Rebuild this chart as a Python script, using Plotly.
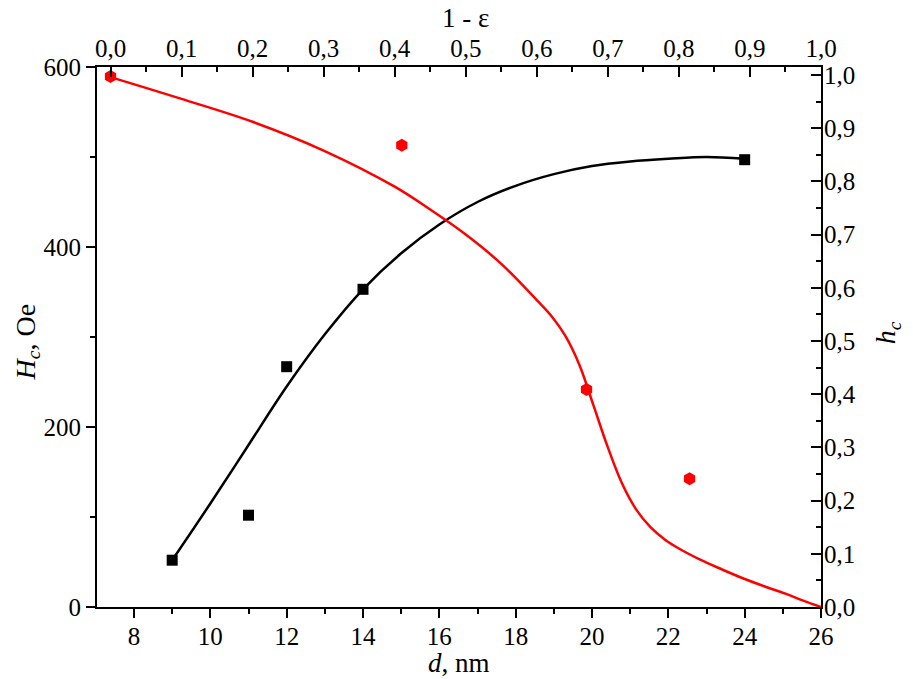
import plotly.graph_objects as go

# measured points: coercive field vs particle size
d_nm = [9, 11, 12, 14, 24]
hc_oe = [52, 102, 267, 353, 497]

# fitted curve for Hc(d)
d_fit = [9, 10, 11, 12, 13, 14, 15, 16, 17, 18, 19, 20, 21, 22, 23, 24]
hc_fit = [52, 115, 180, 245, 303, 353, 393, 425, 450, 468, 481, 490, 495, 498, 500, 498]

# reduced coercivity vs 1 - eps (top / right axes)
one_minus_eps = [0.0, 0.41, 0.67, 0.815]
h_red = [0.997, 0.868, 0.409, 0.241]

eps_fit = [0.0, 0.1, 0.2, 0.3, 0.4, 0.45, 0.5, 0.55, 0.6, 0.62, 0.64, 0.66, 0.68, 0.70,
           0.72, 0.74, 0.76, 0.78, 0.80, 0.83, 0.86, 0.89, 0.92, 0.95, 0.975, 1.0]
h_fit = [0.996, 0.955, 0.912, 0.858, 0.790, 0.747, 0.700, 0.645, 0.577, 0.548, 0.510, 0.455,
         0.378, 0.300, 0.232, 0.183, 0.150, 0.127, 0.110, 0.089, 0.071, 0.054, 0.039, 0.025,
         0.012, 0.0]

RED = "#ff0000"
FONT = "Times New Roman, Liberation Serif, serif"

fig = go.Figure()
fig.add_trace(go.Scatter(x=eps_fit, y=h_fit, xaxis="x2", yaxis="y2", mode="lines",
                         line=dict(color=RED, width=2.5, shape="spline", smoothing=1.0)))
fig.add_trace(go.Scatter(x=one_minus_eps, y=h_red, xaxis="x2", yaxis="y2", mode="markers",
                         marker=dict(symbol="hexagon", size=13, color=RED)))
fig.add_trace(go.Scatter(x=d_fit, y=hc_fit, mode="lines",
                         line=dict(color="black", width=2.5, shape="spline", smoothing=1.0)))
fig.add_trace(go.Scatter(x=d_nm, y=hc_oe, mode="markers",
                         marker=dict(symbol="square", size=11, color="black")))

axis_common = dict(showline=True, linewidth=2, linecolor="black", showgrid=False,
                   zeroline=False, tickwidth=2, tickcolor="black", automargin=False)

fig.update_layout(
    width=913, height=679,
    margin=dict(l=97, r=92, t=67, b=72),
    paper_bgcolor="white", plot_bgcolor="white",
    showlegend=False,
    separators=", ",
    font=dict(family=FONT, size=25, color="black"),
    xaxis=dict(range=[7.03, 26], tick0=8, dtick=2, ticks="outside", ticklen=9, ticklabelstandoff=-3,
               minor=dict(dtick=1, ticks="outside", ticklen=5, tickwidth=2, tickcolor="black"),
               **axis_common),
    yaxis=dict(range=[0, 600], dtick=200, ticks="outside", ticklen=9,
               minor=dict(dtick=100, ticks="outside", ticklen=5, tickwidth=2, tickcolor="black"),
               **axis_common),
    xaxis2=dict(overlaying="x", side="top", anchor="y", range=[-0.019, 1.0],
                dtick=0.1, tickformat=".1f", ticks="inside", ticklen=10, ticklabelstandoff=-2,
                minor=dict(dtick=0.05, ticks="inside", ticklen=5, tickwidth=2, tickcolor="black"),
                **axis_common),
    yaxis2=dict(overlaying="y", side="right", anchor="x", range=[0, 1.015],
                dtick=0.1, tickformat=".1f", ticks="inside", ticklen=10, ticklabelstandoff=-4,
                minor=dict(dtick=0.05, ticks="inside", ticklen=5, tickwidth=2, tickcolor="black"),
                **axis_common),
)

# axis titles placed as annotations so the plot frame keeps its size
title_font = dict(family=FONT, size=27, color="black")
fig.add_annotation(text="<i>d</i>, nm", xref="paper", yref="paper", x=0.5, y=0,
                   yanchor="middle", yshift=-56, showarrow=False, font=title_font)
fig.add_annotation(text="1 - ε", xref="paper", yref="paper", x=0.5, y=1,
                   yanchor="middle", yshift=49, xshift=6, showarrow=False, font=title_font)
fig.add_annotation(text="<i>H<sub>c</sub></i>, Oe", xref="paper", yref="paper", x=0, y=0.49,
                   xanchor="center", xshift=-70, textangle=-90, showarrow=False,
                   font=dict(family=FONT, size=28, color="black"))
fig.add_annotation(text="<i>h<sub>c</sub></i>", xref="paper", yref="paper", x=1, y=0.507,
                   xanchor="center", xshift=66, textangle=-90, showarrow=False,
                   font=dict(family=FONT, size=28, color="black"))

fig.write_html("out.html", config={"displayModeBar": False},
               post_script="document.body.style.margin='0';")
